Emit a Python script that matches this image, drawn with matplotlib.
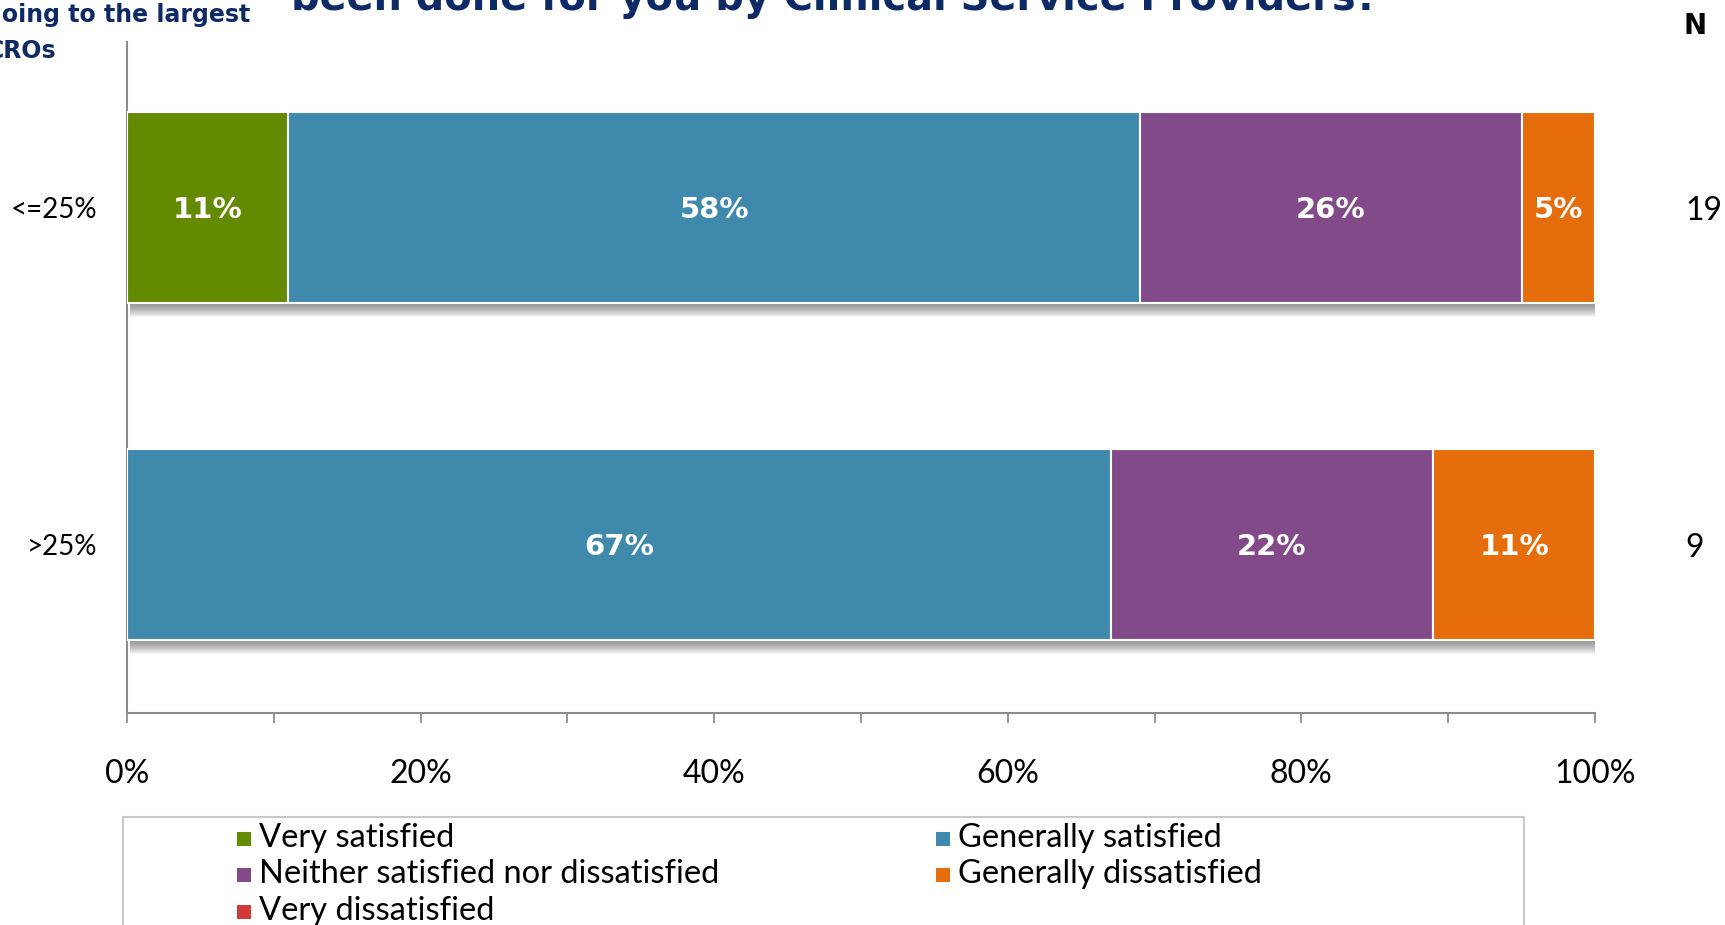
import numpy as np
import matplotlib.pyplot as plt
from matplotlib.patches import Rectangle
from matplotlib.ticker import MultipleLocator

# Data
groups = ["<=25%", ">25%"]
n_values = [19, 9]
categories = ["Very satisfied", "Generally satisfied",
              "Neither satisfied nor dissatisfied", "Generally dissatisfied",
              "Very dissatisfied"]
values = {
    "<=25%": [11, 58, 26, 5, 0],
    ">25%": [0, 67, 22, 11, 0],
}
colors = ["#638A00", "#3F89AD", "#834A8A", "#E56D0B", "#D03A3A"]

navy = "#0E2A66"
label_font = "Lato"

fig = plt.figure(figsize=(17.25, 9.25), dpi=100)
ax = fig.add_axes([0.0736, 0.2292, 0.851, 0.7254])

ypos = [1, 0]
bar_h = 0.567
px = 1 / 337  # one pixel in y data units

# soft shadow under each bar (stacked translucent layers)
for y in ypos:
    for k in range(1, 15):
        ax.barh(y - k * px, 100.2, height=bar_h, left=0.2, color="#3A3A3A",
                alpha=0.05, edgecolor="none", zorder=1)

for g, y in zip(groups, ypos):
    left = 0
    for v, c in zip(values[g], colors):
        if v > 0:
            ax.barh(y, v, left=left, height=bar_h, color=c,
                    edgecolor="white", linewidth=1.5, zorder=3)
            ax.text(left + v / 2, y - 3 * px, f"{v}%", ha="center", va="center",
                    color="white", fontsize=21, fontweight="bold",
                    family="DejaVu Sans", zorder=4)
        left += v

ax.set_xlim(0, 100)
ax.set_ylim(-0.5, 1.49)
ax.set_yticks(ypos)
ax.set_yticklabels(groups, fontsize=20, family=label_font)
ax.tick_params(axis="y", length=0, pad=21)
ax.xaxis.set_major_locator(MultipleLocator(20))
ax.xaxis.set_minor_locator(MultipleLocator(10))
ax.set_xticklabels([f"{int(t)}%" for t in ax.get_xticks()],
                   fontsize=23, family=label_font)
ax.tick_params(axis="x", which="both", direction="out", length=7,
               width=1.3, color="#8C8C8C", pad=26)

for s in ["top", "right"]:
    ax.spines[s].set_visible(False)
for s in ["left", "bottom"]:
    ax.spines[s].set_color("#8C8C8C")
    ax.spines[s].set_linewidth(1.5)

# N column
fig.text(1683 / 1725, 1 - 26 / 925, "N", fontsize=20, fontweight="bold",
         ha="left", va="center", family="DejaVu Sans")
for n, y in zip(n_values, ypos):
    ax.annotate(str(n), xy=(1, y - 4 * px), xycoords=("axes fraction", "data"),
                xytext=(1685 / 1725, 0), textcoords=("figure fraction", "offset points"),
                fontsize=23, family=label_font, ha="left", va="center")

# cut-off title and axis caption
fig.text(0.484, 1 - 10 / 925, "been done for you by Clinical Service Providers?",
         ha="center", va="baseline", fontsize=28.7, fontweight="bold",
         color=navy, family="DejaVu Sans")
fig.text(-15 / 1725, 1 - 15 / 925, "going to the largest", ha="left",
         va="center", fontsize=17, fontweight="bold", color=navy,
         family="DejaVu Sans")
fig.text(-13 / 1725, 1 - 51 / 925, "CROs", ha="left",
         va="center", fontsize=17, fontweight="bold", color=navy,
         family="DejaVu Sans")

# legend box
fig.patches.append(Rectangle((123 / 1725, -0.05), (1524 - 123) / 1725,
                             0.05 + 1 - 817 / 925, transform=fig.transFigure,
                             facecolor="white", edgecolor="#C8C8C8", lw=1.5))
col_x = [237 / 1725, 936 / 1725]
row_y = [1 - 838 / 925, 1 - 874 / 925, 1 - 911 / 925]
for i, (cat, c) in enumerate(zip(categories, colors)):
    r, col = divmod(i, 2)
    x, y = col_x[col], row_y[r]
    fig.patches.append(Rectangle((x, y - 8 / 925), 14 / 1725, 14 / 925,
                                 transform=fig.transFigure, facecolor=c,
                                 edgecolor="none"))
    fig.text(x + 22 / 1725, y, cat, ha="left", va="center", fontsize=23.5,
             family=label_font)

fig.savefig("out.png", dpi=100)
